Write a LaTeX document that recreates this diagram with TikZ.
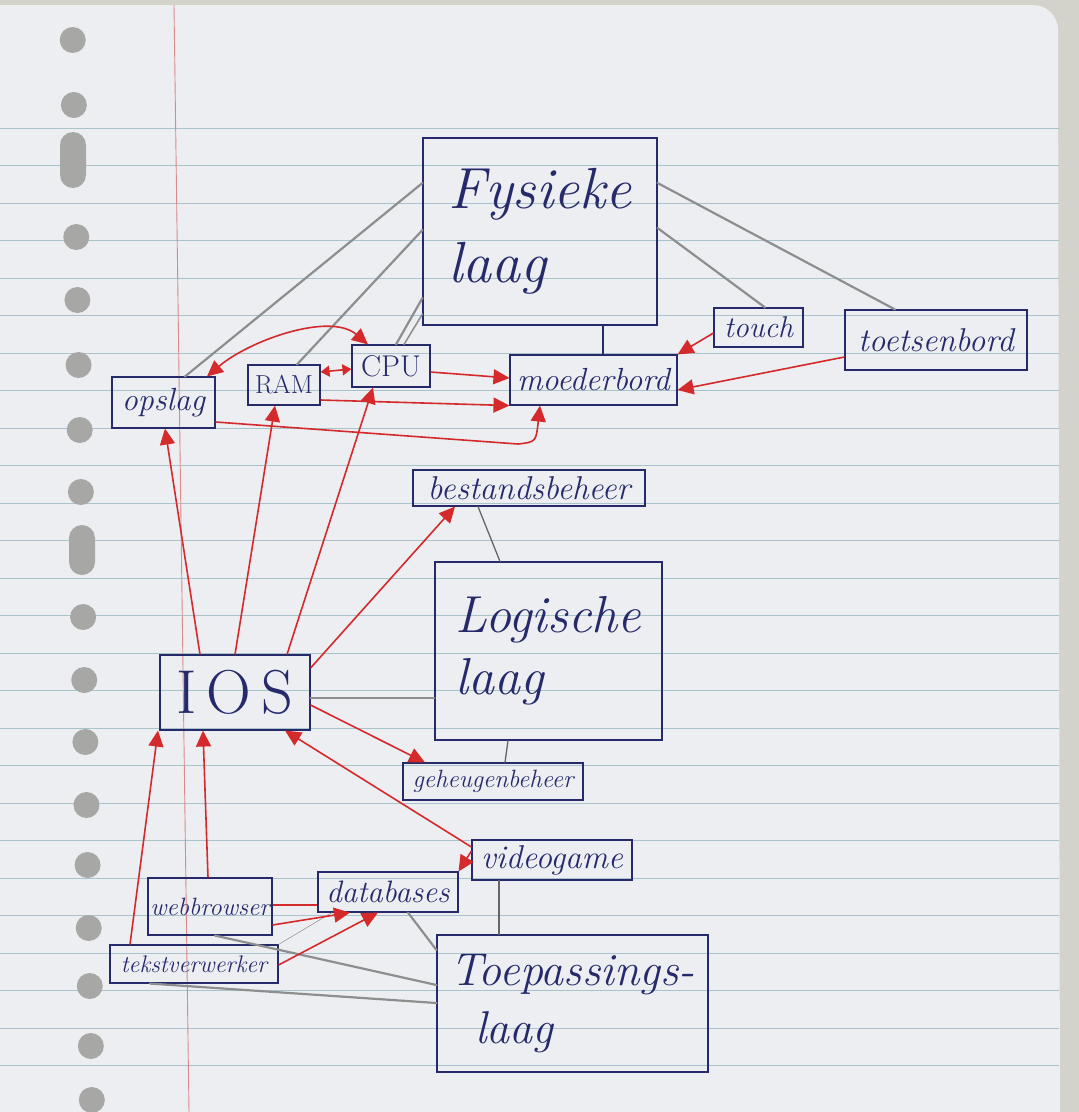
\documentclass[tikz,border=0pt]{standalone}
\usetikzlibrary{arrows.meta,calc}
\definecolor{ink}{HTML}{262A6B}
\definecolor{pencil}{HTML}{8E8E8E}
\definecolor{darkpencil}{HTML}{666666}
\definecolor{redink}{HTML}{D42A2C}
\definecolor{paper}{HTML}{ECEEF1}
\definecolor{ruleline}{HTML}{A9C3CB}
\definecolor{marginline}{HTML}{D98A8A}
\definecolor{desk}{HTML}{D3D2CB}
\definecolor{holegrey}{HTML}{A7A8A5}
\begin{document}
\begin{tikzpicture}[x=1pt,y=-1pt,
  box/.style={draw=ink, line width=1.1pt, inner sep=0pt, text=ink, align=left},
  hand/.style={font=\fontsize{#1}{#1}\selectfont\itshape},
  bighand/.style 2 args={font=\fontsize{#1}{#2}\selectfont\itshape},
  caps/.style={font=\fontsize{#1}{#1}\selectfont\upshape},
  pen/.style={pencil, line width=2.2pt, line cap=round},
  thinpen/.style={darkpencil, line width=1.3pt, line cap=round},
  inkline/.style={ink, line width=1.2pt},
  redline/.style={redink, line width=1.6pt},
  redarr/.style={redink, line width=1.6pt, -{Triangle[length=16pt,width=15pt]}},
  redboth/.style={redink, line width=1.6pt, {Triangle[length=16pt,width=15pt]}-{Triangle[length=16pt,width=15pt]}},
  redbothsmall/.style={redink, line width=1.6pt, {Triangle[length=9pt,width=11pt]}-{Triangle[length=9pt,width=11pt]}}
]
\useasboundingbox (0,0) rectangle (1079,1112);
% paper
\fill[desk] (0,0) rectangle (1079,1112);
\fill[paper, rounded corners=25pt] (-40,5) -- (1058,5) -- (1060,1150) -- (-40,1150) -- cycle;
\foreach \k in {0,...,25} {
  \draw[ruleline, line width=0.9pt] (0,128+37.5*\k) -- (1059,128+37.5*\k);
}
\draw[marginline, line width=0.9pt] (174,5) -- (189,1112);
\foreach \h in {40,105,237,300,365,430,492,617,680,742,805,865,928,986,1046,1100} {
  \fill[holegrey] (72+0.018*\h,\h) circle (13pt);
}
\fill[holegrey, rounded corners=13pt] (60,132) rectangle (86,188);
\fill[holegrey, rounded corners=13pt] (69,525) rectangle (95,575);

% boxes
\node[box, minimum width=234pt, minimum height=187pt, bighand={58}{74}] (fys) at (540,231.5) {Fysieke\\laag};
\node[box, minimum width=89pt, minimum height=39pt, hand=30] (touch) at (758.5,327.5) {touch};
\node[box, minimum width=182pt, minimum height=60pt, hand=33] (toets) at (936,340) {toetsenbord};
\node[box, minimum width=167pt, minimum height=50pt, hand=32] (moeder) at (593.5,380) {moederbord};
\node[box, minimum width=78pt, minimum height=42pt, caps=30] (cpu) at (391,366) {CPU};
\node[box, minimum width=72pt, minimum height=40pt, caps=26] (ram) at (284,385) {RAM};
\node[box, minimum width=103pt, minimum height=51pt, hand=32] (opslag) at (163.5,402.5) {opslag};
\node[box, minimum width=232pt, minimum height=36pt, hand=33] (best) at (529,488) {bestandsbeheer};
\node[box, minimum width=227pt, minimum height=178pt, bighand={52}{62}] (logi) at (548.5,651) {Logische\\laag};
\node[box, minimum width=150pt, minimum height=75pt, caps=62] (ios) at (235,692.5) {I\,O\,S};
\node[box, minimum width=180pt, minimum height=37pt, hand=25] (geh) at (493,781.5) {geheugenbeheer};
\node[box, minimum width=160pt, minimum height=40pt, hand=33] (video) at (552,860) {videogame};
\node[box, minimum width=140pt, minimum height=40pt, hand=31] (data) at (388,892) {databases};
\node[box, minimum width=124pt, minimum height=57pt, hand=25] (web) at (210,906.5) {webbrowser};
\node[box, minimum width=168pt, minimum height=38pt, hand=24] (tekst) at (194,964) {tekstverwerker};
\node[box, minimum width=271pt, minimum height=137pt, bighand={46}{58}] (toep) at (572.5,1003.5) {Toepassings-\\\hspace*{25pt}laag};

% pencil connectors
\draw[pen] (fys.west |- 0,183) -- (opslag.north -| 185,0);
\draw[pen] (fys.west |- 0,230) -- (ram.north -| 297,0);
\draw[pen] (fys.west |- 0,298) -- (cpu.north -| 396,0);
\draw[pen, line width=1.5pt] (fys.west |- 0,314) -- (cpu.north -| 404,0);
\draw[inkline] (fys.south -| 603,0) -- (moeder.north -| 603,0);
\draw[pen] (fys.east |- 0,228) -- (touch.north -| 765,0);
\draw[pen] (fys.east |- 0,183) -- (toets.north -| 895,0);
\draw[thinpen] (best.south -| 478,0) -- (logi.north -| 500,0);
\draw[pen] (ios.east |- 0,698) -- (logi.west |- 0,698);
\draw[thinpen] (logi.south -| 508,0) -- (geh.north -| 505,0);
\draw[thinpen] (video.south -| 499,0) -- (toep.north -| 499,0);
\draw[pen] (data.south -| 408,0) -- (toep.west |- 0,950);
\draw[pen] (web.south -| 215,0) -- (toep.west |- 0,985);
\draw[pen] (tekst.south -| 150,0) -- (toep.west |- 0,1003);
\draw[pencil, line width=0.5pt] (tekst.north east) -- (data.south -| 332,0);

% red arrows
\draw[redboth] (opslag.north -| 207,0) .. controls (250,340) and (330,312) .. (cpu.north -| 368,0);
\draw[redbothsmall] (ram.east |- 0,372) -- (cpu.west |- 0,369);
\draw[redarr] (cpu.east |- 0,372) -- (moeder.west |- 0,378);
\draw[redarr] (ram.east |- 0,400) -- (moeder.south west);
\draw[redarr] (opslag.east |- 0,422) -- (518,444) .. controls (536,442) .. (moeder.south -| 540,0);
\draw[redarr] (touch.west |- 0,333) -- (moeder.north east);
\draw[redarr] (toets.west |- 0,357) -- (moeder.east |- 0,390);
\draw[redarr] (ios.north -| 200,0) -- (opslag.south -| 165,0);
\draw[redarr] (ios.north -| 235,0) -- (ram.south -| 275,0);
\draw[redarr] (ios.north -| 287,0) -- (cpu.south -| 373,0);
\draw[redarr] (ios.east |- 0,668) -- (best.south -| 455,0);
\draw[redarr] (ios.east |- 0,705) -- (geh.north -| 425,0);
\draw[redarr] (video.west |- 0,847) -- (ios.south -| 285,0);
\draw[redarr] (video.west |- 0,851) -- (data.north east);
\draw[redarr] (web.north -| 208,0) -- (ios.south -| 203,0);
\draw[redarr] (tekst.north -| 130,0) -- (ios.south -| 158,0);
\draw[redarr] (web.east |- 0,925) -- (data.south -| 350,0);
\draw[redarr] (tekst.east |- 0,965) -- (data.south -| 378,0);
\draw[redline] (web.east |- 0,905) -- (data.west |- 0,905);
\end{tikzpicture}
\end{document}
